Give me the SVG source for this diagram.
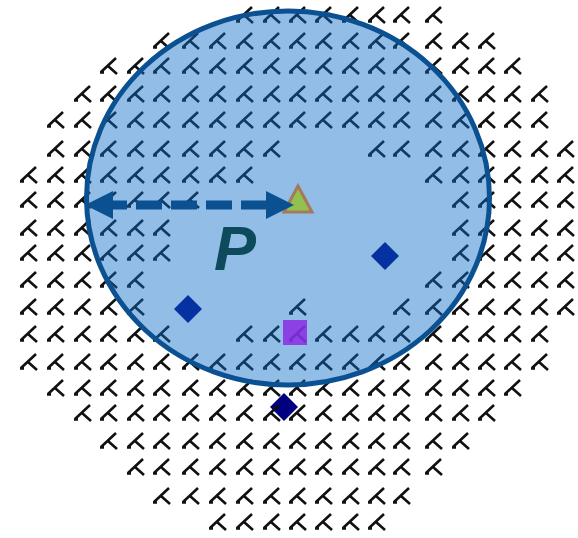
<svg xmlns="http://www.w3.org/2000/svg" xmlns:xlink="http://www.w3.org/1999/xlink" width="578" height="538" viewBox="0 0 578 538">
<style>
.pt{fill:none;stroke:#111;stroke-width:2.6;stroke-linejoin:miter;stroke-linecap:butt}
.dia{stroke:none}
.ring{fill:#0d6dc8;fill-opacity:0.45;stroke:#0b5192;stroke-width:5}
.arrow{fill:#0b5192}
.shaft{stroke:#0b5192;stroke-width:9;stroke-dasharray:26 9;fill:none}
.lbl{font-family:"Liberation Sans",Arial,sans-serif;font-weight:bold;font-style:italic;font-size:63px;fill:#0c4a5c}
</style>
<defs>
<path id="k" class="pt" d="M7,-9 L-8,5 M-9,5.5 L-5,5.5 M-1,-1 L8,7"/>
</defs>
<rect width="578" height="538" fill="#fff"/>
<g id="diamonds-under">
<polygon class="dia" fill="#000080" points="188,295 202,309 188,323 174,309"/>
<polygon class="dia" fill="#000080" points="385,242 399,256 385,270 371,256"/>
<polygon class="dia" fill="#000080" points="284,393 298,407 284,421 270,407"/>
</g>
<g id="points">
<g transform="translate(0,16)"><use href="#k" x="245"/><use href="#k" x="272"/><use href="#k" x="298"/><use href="#k" x="324"/><use href="#k" x="351"/><use href="#k" x="377"/><use href="#k" x="402"/><use href="#k" x="434"/></g>
<g transform="translate(0,42)"><use href="#k" x="162"/><use href="#k" x="191"/><use href="#k" x="218"/><use href="#k" x="245"/><use href="#k" x="272"/><use href="#k" x="298"/><use href="#k" x="324"/><use href="#k" x="351"/><use href="#k" x="377"/><use href="#k" x="402"/><use href="#k" x="434"/><use href="#k" x="461"/><use href="#k" x="487"/></g>
<g transform="translate(0,67)"><use href="#k" x="109"/><use href="#k" x="136"/><use href="#k" x="162"/><use href="#k" x="191"/><use href="#k" x="218"/><use href="#k" x="245"/><use href="#k" x="272"/><use href="#k" x="298"/><use href="#k" x="324"/><use href="#k" x="351"/><use href="#k" x="377"/><use href="#k" x="402"/><use href="#k" x="434"/><use href="#k" x="461"/><use href="#k" x="487"/><use href="#k" x="513"/></g>
<g transform="translate(0,95)"><use href="#k" x="83"/><use href="#k" x="109"/><use href="#k" x="136"/><use href="#k" x="162"/><use href="#k" x="191"/><use href="#k" x="218"/><use href="#k" x="245"/><use href="#k" x="272"/><use href="#k" x="298"/><use href="#k" x="324"/><use href="#k" x="351"/><use href="#k" x="377"/><use href="#k" x="402"/><use href="#k" x="434"/><use href="#k" x="461"/><use href="#k" x="487"/><use href="#k" x="513"/><use href="#k" x="540"/></g>
<g transform="translate(0,121)"><use href="#k" x="56"/><use href="#k" x="83"/><use href="#k" x="109"/><use href="#k" x="136"/><use href="#k" x="162"/><use href="#k" x="191"/><use href="#k" x="218"/><use href="#k" x="245"/><use href="#k" x="272"/><use href="#k" x="298"/><use href="#k" x="324"/><use href="#k" x="351"/><use href="#k" x="377"/><use href="#k" x="402"/><use href="#k" x="434"/><use href="#k" x="461"/><use href="#k" x="487"/><use href="#k" x="513"/><use href="#k" x="540"/></g>
<g transform="translate(0,150)"><use href="#k" x="56"/><use href="#k" x="83"/><use href="#k" x="109"/><use href="#k" x="136"/><use href="#k" x="162"/><use href="#k" x="191"/><use href="#k" x="218"/><use href="#k" x="245"/><use href="#k" x="272"/><use href="#k" x="377"/><use href="#k" x="402"/><use href="#k" x="434"/><use href="#k" x="461"/><use href="#k" x="487"/><use href="#k" x="513"/><use href="#k" x="540"/><use href="#k" x="566"/></g>
<g transform="translate(0,176)"><use href="#k" x="29"/><use href="#k" x="56"/><use href="#k" x="83"/><use href="#k" x="109"/><use href="#k" x="136"/><use href="#k" x="162"/><use href="#k" x="191"/><use href="#k" x="218"/><use href="#k" x="245"/><use href="#k" x="434"/><use href="#k" x="461"/><use href="#k" x="487"/><use href="#k" x="513"/><use href="#k" x="540"/><use href="#k" x="566"/></g>
<g transform="translate(0,201)"><use href="#k" x="29"/><use href="#k" x="56"/><use href="#k" x="83"/><use href="#k" x="109"/><use href="#k" x="136"/><use href="#k" x="162"/><use href="#k" x="191"/><use href="#k" x="461"/><use href="#k" x="487"/><use href="#k" x="513"/><use href="#k" x="540"/><use href="#k" x="566"/></g>
<g transform="translate(0,229)"><use href="#k" x="29"/><use href="#k" x="56"/><use href="#k" x="83"/><use href="#k" x="109"/><use href="#k" x="136"/><use href="#k" x="162"/><use href="#k" x="461"/><use href="#k" x="487"/><use href="#k" x="513"/><use href="#k" x="540"/><use href="#k" x="566"/></g>
<g transform="translate(0,254)"><use href="#k" x="29"/><use href="#k" x="56"/><use href="#k" x="83"/><use href="#k" x="109"/><use href="#k" x="136"/><use href="#k" x="162"/><use href="#k" x="461"/><use href="#k" x="487"/><use href="#k" x="513"/><use href="#k" x="540"/><use href="#k" x="566"/></g>
<g transform="translate(0,281)"><use href="#k" x="29"/><use href="#k" x="56"/><use href="#k" x="83"/><use href="#k" x="109"/><use href="#k" x="136"/><use href="#k" x="434"/><use href="#k" x="461"/><use href="#k" x="487"/><use href="#k" x="513"/><use href="#k" x="540"/><use href="#k" x="566"/></g>
<g transform="translate(0,308)"><use href="#k" x="29"/><use href="#k" x="56"/><use href="#k" x="83"/><use href="#k" x="109"/><use href="#k" x="136"/><use href="#k" x="298"/><use href="#k" x="402"/><use href="#k" x="434"/><use href="#k" x="461"/><use href="#k" x="487"/><use href="#k" x="513"/><use href="#k" x="540"/><use href="#k" x="566"/></g>
<g transform="translate(0,335)"><use href="#k" x="29"/><use href="#k" x="56"/><use href="#k" x="83"/><use href="#k" x="109"/><use href="#k" x="136"/><use href="#k" x="162"/><use href="#k" x="245"/><use href="#k" x="272"/><use href="#k" x="298"/><use href="#k" x="324"/><use href="#k" x="351"/><use href="#k" x="377"/><use href="#k" x="402"/><use href="#k" x="434"/><use href="#k" x="461"/><use href="#k" x="487"/><use href="#k" x="513"/><use href="#k" x="540"/></g>
<g transform="translate(0,363)"><use href="#k" x="29"/><use href="#k" x="56"/><use href="#k" x="83"/><use href="#k" x="109"/><use href="#k" x="136"/><use href="#k" x="162"/><use href="#k" x="191"/><use href="#k" x="218"/><use href="#k" x="245"/><use href="#k" x="272"/><use href="#k" x="298"/><use href="#k" x="324"/><use href="#k" x="351"/><use href="#k" x="377"/><use href="#k" x="402"/><use href="#k" x="434"/><use href="#k" x="461"/><use href="#k" x="487"/><use href="#k" x="513"/><use href="#k" x="540"/></g>
<g transform="translate(0,389)"><use href="#k" x="56"/><use href="#k" x="83"/><use href="#k" x="109"/><use href="#k" x="136"/><use href="#k" x="162"/><use href="#k" x="191"/><use href="#k" x="218"/><use href="#k" x="245"/><use href="#k" x="272"/><use href="#k" x="298"/><use href="#k" x="324"/><use href="#k" x="351"/><use href="#k" x="377"/><use href="#k" x="402"/><use href="#k" x="434"/><use href="#k" x="461"/><use href="#k" x="487"/><use href="#k" x="513"/></g>
<g transform="translate(0,414)"><use href="#k" x="83"/><use href="#k" x="109"/><use href="#k" x="136"/><use href="#k" x="162"/><use href="#k" x="191"/><use href="#k" x="218"/><use href="#k" x="245"/><use href="#k" x="272"/><use href="#k" x="298"/><use href="#k" x="324"/><use href="#k" x="351"/><use href="#k" x="377"/><use href="#k" x="402"/><use href="#k" x="434"/><use href="#k" x="461"/><use href="#k" x="487"/></g>
<g transform="translate(0,442)"><use href="#k" x="109"/><use href="#k" x="136"/><use href="#k" x="162"/><use href="#k" x="191"/><use href="#k" x="218"/><use href="#k" x="245"/><use href="#k" x="272"/><use href="#k" x="298"/><use href="#k" x="324"/><use href="#k" x="351"/><use href="#k" x="377"/><use href="#k" x="402"/><use href="#k" x="434"/><use href="#k" x="461"/></g>
<g transform="translate(0,468)"><use href="#k" x="136"/><use href="#k" x="162"/><use href="#k" x="191"/><use href="#k" x="218"/><use href="#k" x="245"/><use href="#k" x="272"/><use href="#k" x="298"/><use href="#k" x="324"/><use href="#k" x="351"/><use href="#k" x="377"/><use href="#k" x="402"/><use href="#k" x="434"/></g>
<g transform="translate(0,497)"><use href="#k" x="162"/><use href="#k" x="191"/><use href="#k" x="218"/><use href="#k" x="245"/><use href="#k" x="272"/><use href="#k" x="298"/><use href="#k" x="324"/><use href="#k" x="351"/><use href="#k" x="377"/><use href="#k" x="402"/></g>
<g transform="translate(0,523)"><use href="#k" x="218"/><use href="#k" x="245"/><use href="#k" x="272"/><use href="#k" x="298"/><use href="#k" x="324"/><use href="#k" x="351"/><use href="#k" x="377"/></g>
</g>
<g id="region">
<ellipse class="ring" cx="288" cy="198" rx="201.5" ry="187"/>
</g>
<g id="square"><rect x="283" y="320" width="24" height="25" fill="#8a2be2" fill-opacity="0.85"/></g>
<g id="triangle"><polygon points="298,186 312,212 284,212" fill="#93c150" stroke="#a57a5c" stroke-width="3" stroke-linejoin="miter"/></g>
<g id="connectors">
<line class="shaft" x1="267" y1="205" x2="112" y2="205"/>
<polygon class="arrow" points="85,205 113,191 113,219"/>
<polygon class="arrow" points="294,205 266,191 266,219"/>
</g>
<g id="label"><text class="lbl" x="235" y="270" text-anchor="middle">P</text></g>
</svg>
